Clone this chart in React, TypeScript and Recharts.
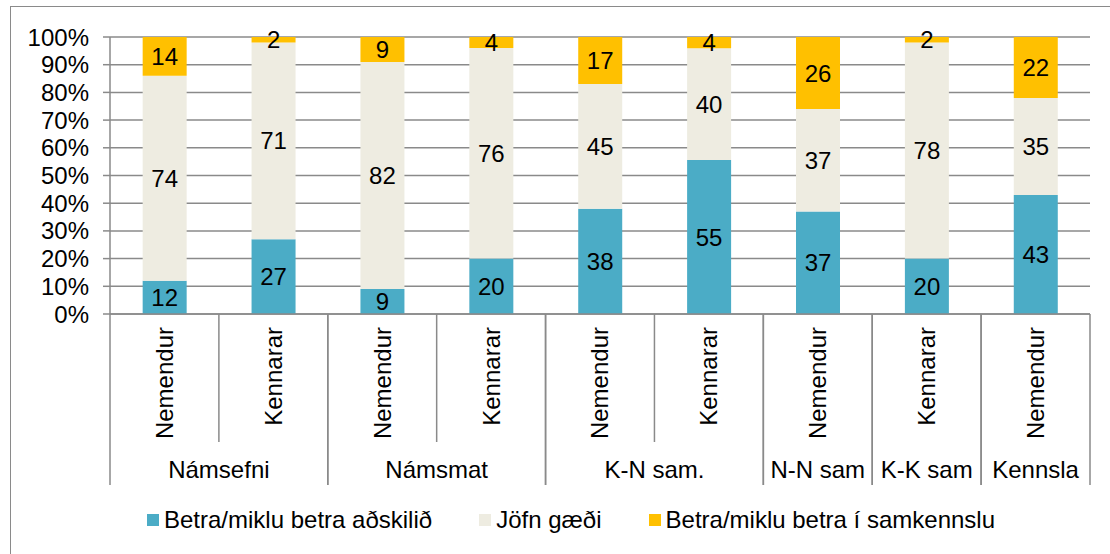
import React from 'react';
import { BarChart, Bar, XAxis, YAxis, CartesianGrid, LabelList, Legend } from 'recharts';

// ---- data ----
const subLabels = ['Nemendur', 'Kennarar', 'Nemendur', 'Kennarar', 'Nemendur', 'Kennarar', 'Nemendur', 'Kennarar', 'Nemendur'];
const groupNames = ['Námsefni', 'Námsmat', 'K-N sam.', 'N-N sam', 'K-K sam', 'Kennsla'];
const groupSizes = [2, 2, 2, 1, 1, 1];
const betraAdskilid = [12, 27, 9, 20, 38, 55, 37, 20, 43];
const jofnGaedi = [74, 71, 82, 76, 45, 40, 37, 78, 35];
const betraSamkennslu = [14, 2, 9, 4, 17, 4, 26, 2, 22];
const seriesNames = ['Betra/miklu betra aðskilið', 'Jöfn gæði', 'Betra/miklu betra í samkennslu'];
const seriesKeys = ['a', 'b', 'c'];
const seriesColors = ['#4BACC6', '#EEECE1', '#FFC000'];
const yTicks = [0, 0.1, 0.2, 0.3, 0.4, 0.5, 0.6, 0.7, 0.8, 0.9, 1];

const data = subLabels.map((_, i) => ({
  cat: String(i),
  a: betraAdskilid[i],
  b: jofnGaedi[i],
  c: betraSamkennslu[i],
}));

// ---- layout / style ----
const W = 1110;
const H = 554;
const MARGIN = { top: 37, right: 20, left: 30, bottom: 69 };
const Y_AXIS_W = 80;
const X_AXIS_H = 171;
const PLOT_LEFT = MARGIN.left + Y_AXIS_W;
const PLOT_RIGHT = W - MARGIN.right;
const BAND = (PLOT_RIGHT - PLOT_LEFT) / subLabels.length;
const GRAY = '#8a8a8a';
const FONT = '"Liberation Sans", Arial, sans-serif';
const FS = 24;

const groupInfo = (i: number) => {
  let s = 0;
  for (let g = 0; g < groupSizes.length; g++) {
    const e = s + groupSizes[g] - 1;
    if (i >= s && i <= e) return { g, start: s, end: e };
    s = e + 1;
  }
  return { g: 0, start: i, end: i };
};

const CategoryTick = (props: any) => {
  const { x, y, payload } = props;
  const i = Number(payload.value);
  const { g, start, end } = groupInfo(i);
  const left = x - BAND / 2;
  const right = x + BAND / 2;
  return (
    <g>
      <text
        transform={`translate(${x},${y + 13}) rotate(-90)`}
        textAnchor="end"
        dy="0.35em"
        fontSize={FS}
        fontFamily={FONT}
        fill="#000"
      >
        {subLabels[i]}
      </text>
      {i === start && (
        <line x1={left} y1={y} x2={left} y2={y + X_AXIS_H} stroke={GRAY} strokeWidth={1.5} />
      )}
      <line x1={right} y1={y} x2={right} y2={i === end ? y + X_AXIS_H : y + 128} stroke={GRAY} strokeWidth={1.5} />
      {i === start && (
        <text
          x={left + ((end - start + 1) * BAND) / 2}
          y={y + 164}
          textAnchor="middle"
          fontSize={FS}
          fontFamily={FONT}
          fill="#000"
        >
          {groupNames[g]}
        </text>
      )}
    </g>
  );
};

const LegendContent = () => (
  <div
    style={{
      display: 'flex',
      alignItems: 'center',
      paddingLeft: 147,
      gap: 47,
      fontFamily: FONT,
      fontSize: FS,
      lineHeight: '27px',
      color: '#000',
      whiteSpace: 'nowrap',
    }}
  >
    {seriesNames.map((n, k) => (
      <div key={n} style={{ display: 'flex', alignItems: 'center' }}>
        <span style={{ display: 'inline-block', width: 12, height: 12, background: seriesColors[k], marginRight: 5 }} />
        <span>{n}</span>
      </div>
    ))}
  </div>
);

export default function App() {
  return (
    <div style={{ position: 'absolute', left: 0, top: 0, width: W, height: H, overflow: 'hidden', background: '#fff' }}>
      <div
        style={{
          position: 'absolute',
          left: 10,
          top: 6,
          width: W + 20,
          height: H + 20,
          border: '1.5px solid #8a8a8a',
          boxSizing: 'border-box',
        }}
      />
      <div style={{ position: 'absolute', left: 0, top: 0 }}>
        <BarChart width={W} height={H} data={data} margin={MARGIN} stackOffset="expand" barCategoryGap="30%">
          <CartesianGrid horizontal vertical={false} stroke={GRAY} strokeWidth={1.5} />
          <XAxis
            dataKey="cat"
            type="category"
            height={X_AXIS_H}
            interval={0}
            tickLine={false}
            tickSize={0}
            tickMargin={0}
            axisLine={{ stroke: GRAY, strokeWidth: 1.5 }}
            tick={<CategoryTick />}
          />
          <YAxis
            width={Y_AXIS_W}
            domain={[0, 1]}
            ticks={yTicks}
            interval={0}
            tickSize={7}
            tickMargin={14}
            tickLine={{ stroke: GRAY, strokeWidth: 1.5 }}
            axisLine={{ stroke: GRAY, strokeWidth: 1.5 }}
            tick={{ fill: '#000', fontSize: FS, fontFamily: FONT }}
            tickFormatter={(v: number) => `${Math.round(v * 100)}%`}
          />
          <Legend
            layout="horizontal"
            verticalAlign="middle"
            align="center"
            wrapperStyle={{ position: 'absolute', left: 0, top: 506, width: W, height: 27 }}
            content={<LegendContent />}
          />
          {seriesKeys.map((k, idx) => (
            <Bar key={k} dataKey={k} name={seriesNames[idx]} stackId="s" fill={seriesColors[idx]} isAnimationActive={false}>
              <LabelList dataKey={k} position="center" fill="#000" fontSize={FS} fontFamily={FONT} />
            </Bar>
          ))}
        </BarChart>
      </div>
    </div>
  );
}
